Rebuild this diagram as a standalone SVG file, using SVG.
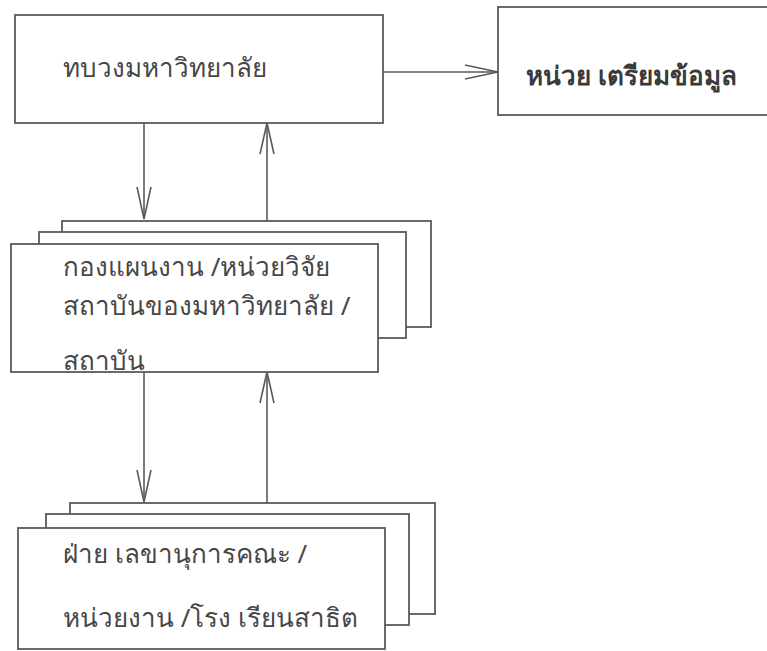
<svg xmlns="http://www.w3.org/2000/svg" width="767" height="651" viewBox="0 0 767 651">
  <style>
    .box { fill: #ffffff; stroke: #5a5a5a; stroke-width: 1.8; }
    .line { fill: none; stroke: #5a5a5a; stroke-width: 1.6; }
    .head { fill: none; stroke: #5a5a5a; stroke-width: 1.6; stroke-linejoin: miter; }
    .label { font-family: "Noto Sans", "DejaVu Sans", sans-serif; font-size: 26px; fill: #474747; }
    .bold { font-weight: bold; fill: #3a3a3a; }
  </style>
  <rect width="767" height="651" fill="#ffffff"/>

  <!-- connectors -->
  <g id="connectors">
    <!-- university office to data preparation unit -->
    <line class="line" x1="383" y1="72" x2="498" y2="72"/>
    <polyline class="head" points="465,65 498,72 465,79"/>
    <!-- university office down to planning division -->
    <line class="line" x1="144" y1="123" x2="144" y2="219"/>
    <polyline class="head" points="137,187 144,219 151,187"/>
    <!-- planning division up to university office -->
    <line class="line" x1="267" y1="221" x2="267" y2="123"/>
    <polyline class="head" points="260,154 267,123 274,154"/>
    <!-- planning division down to faculty secretariat -->
    <line class="line" x1="144" y1="372" x2="144" y2="502"/>
    <polyline class="head" points="137,470 144,502 151,470"/>
    <!-- faculty secretariat up to planning division -->
    <line class="line" x1="267" y1="503" x2="267" y2="372"/>
    <polyline class="head" points="260,403 267,372 274,403"/>
  </g>

  <!-- ministry of university affairs -->
  <g id="node-ministry">
    <rect class="box" x="15" y="15" width="368" height="108"/>
    <text class="label" x="63" y="77">ทบวงมหาวิทยาลัย</text>
  </g>

  <!-- data preparation unit -->
  <g id="node-data-unit">
    <rect class="box" x="498" y="7" width="290" height="108"/>
    <text class="label bold" x="526" y="85">หน่วย เตรียมข้อมูล</text>
  </g>

  <!-- planning division / institutional research unit (stacked) -->
  <g id="node-planning">
    <rect class="box" x="62" y="221" width="369" height="106"/>
    <rect class="box" x="39" y="232" width="367" height="106"/>
    <rect class="box" x="11" y="244" width="367" height="128"/>
    <text class="label" x="63" y="276">กองแผนงาน /หน่วยวิจัย</text>
    <text class="label" x="63" y="315">สถาบันของมหาวิทยาลัย /</text>
    <text class="label" x="63" y="370">สถาบัน</text>
  </g>

  <!-- faculty secretariat / units / demonstration school (stacked) -->
  <g id="node-faculty">
    <rect class="box" x="70" y="503" width="365" height="111"/>
    <rect class="box" x="46" y="514" width="363" height="111"/>
    <rect class="box" x="18" y="528" width="367" height="121"/>
    <text class="label" x="63" y="563">ฝ่าย เลขานุการคณะ /</text>
    <text class="label" x="63" y="627">หน่วยงาน /โรง เรียนสาธิต</text>
  </g>
</svg>
